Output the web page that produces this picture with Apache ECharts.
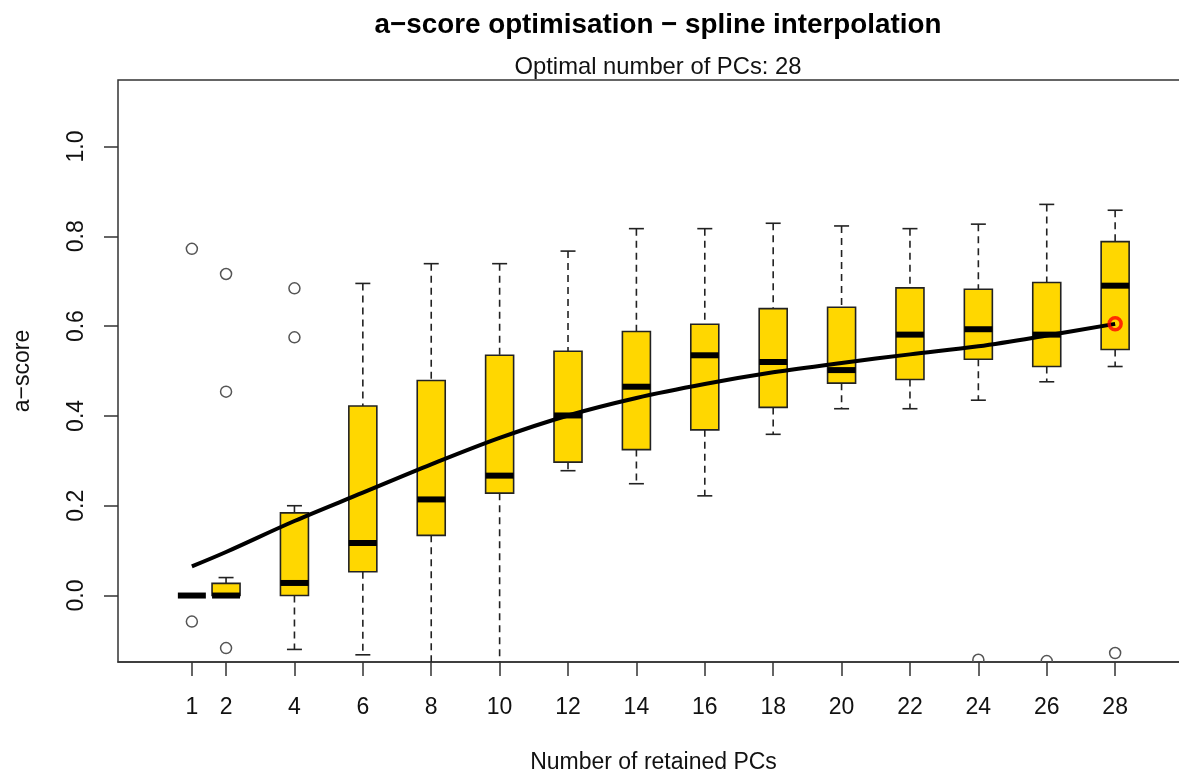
<!DOCTYPE html>
<html><head><meta charset="utf-8">
<script src="https://cdn.jsdelivr.net/npm/echarts@6/dist/echarts.min.js"></script>
<style>html,body{margin:0;padding:0;background:#fff}#c{width:1179px;height:776px}</style>
</head><body><div id="c"></div>
<script>
// ---- data ----
const positions   = [1, 2, 4, 6, 8, 10, 12, 14, 16, 18, 20, 22, 24, 26, 28];
const whiskerLow  = [0, 0, -0.120, -0.132, -0.160, -0.160, 0.278, 0.249, 0.222, 0.359, 0.416, 0.416, 0.435, 0.476, 0.510];
const q1          = [0, 0, 0, 0.053, 0.134, 0.228, 0.297, 0.325, 0.369, 0.419, 0.473, 0.481, 0.526, 0.510, 0.548];
const medians     = [0, 0, 0.028, 0.117, 0.214, 0.267, 0.401, 0.465, 0.535, 0.520, 0.502, 0.581, 0.593, 0.581, 0.690];
const q3          = [0, 0.027, 0.184, 0.422, 0.479, 0.535, 0.544, 0.588, 0.604, 0.639, 0.642, 0.685, 0.682, 0.697, 0.788];
const whiskerHigh = [0, 0.040, 0.200, 0.695, 0.739, 0.739, 0.767, 0.817, 0.817, 0.829, 0.823, 0.817, 0.827, 0.871, 0.858];
const outlierX    = [1, 1, 2, 2, 2, 4, 4, 24, 26, 28];
const outlierY    = [0.772, -0.058, 0.716, 0.454, -0.117, 0.684, 0.575, -0.143, -0.146, -0.128];
const splineY     = [0.065, 0.097, 0.166, 0.229, 0.292, 0.351, 0.401, 0.440, 0.471, 0.497, 0.518, 0.537, 0.555, 0.579, 0.605];
const optimalPC   = 28;
const optimalScore = 0.605;
const xTickLabels = [1, 2, 4, 6, 8, 10, 12, 14, 16, 18, 20, 22, 24, 26, 28];
const yTickLabels = [0, 0.2, 0.4, 0.6, 0.8, 1.0];
const titleText = 'a\u2212score optimisation \u2212 spline interpolation';
const subtitleText = 'Optimal number of PCs: ' + optimalPC;

// ---- styles ----
const FONT = '"Liberation Sans", Arial, Helvetica, sans-serif';
const BOX_W = 28, CAP_W = 15, OUT_R = 5.5;
const GOLD = '#FFD700', INK = '#222';
const TICK_FS = 23;

const boxData = positions.map((x, i) => [x, whiskerLow[i], q1[i], medians[i], q3[i], whiskerHigh[i]]);
const outlierData = outlierX.map((x, i) => [x, outlierY[i]]);
const splineData = positions.map((x, i) => [x, splineY[i]]);

const chart = echarts.init(document.getElementById('c'), null, {renderer: 'canvas'});
chart.setOption({
  animation: false,
  backgroundColor: '#fff',
  title: [
    {text: titleText, left: 653, top: 5, textAlign: 'center',
     textStyle: {fontFamily: FONT, fontWeight: 'bold', fontSize: 27.8, color: '#000', lineHeight: 30}},
    {text: subtitleText, left: 653, top: 49, textAlign: 'center',
     textStyle: {fontFamily: FONT, fontWeight: 'normal', fontSize: 23.8, color: '#111', lineHeight: 26}}
  ],
  grid: {left: 118, top: 80, width: 1071, height: 582, show: true, borderColor: '#333', borderWidth: 1.5,
    backgroundColor: 'transparent', containLabel: false, outerBoundsMode: 'none'},
  xAxis: {
    type: 'value', min: -1.16, max: 30.16,
    name: 'Number of retained PCs', nameLocation: 'middle', nameGap: 89,
    nameTextStyle: {fontFamily: FONT, fontSize: TICK_FS, color: '#111'},
    axisLine: {show: true, onZero: false, lineStyle: {color: '#333', width: 1.5}},
    axisTick: {show: true, length: 14, inside: false, customValues: xTickLabels, lineStyle: {color: '#333', width: 1.5}},
    axisLabel: {customValues: xTickLabels, margin: 34, fontFamily: FONT, fontSize: TICK_FS, color: '#111'},
    splitLine: {show: false}
  },
  yAxis: {
    type: 'value', min: -0.148, max: 1.148,
    name: 'a\u2212score', nameLocation: 'middle', nameGap: 84, nameRotate: 90,
    nameTextStyle: {fontFamily: FONT, fontSize: TICK_FS, color: '#111'},
    axisLine: {show: false, onZero: false},
    axisTick: {show: true, length: 14, inside: false, customValues: yTickLabels, lineStyle: {color: '#333', width: 1.5}},
    axisLabel: {customValues: yTickLabels, rotate: 90, margin: 30, fontFamily: FONT, fontSize: TICK_FS, color: '#111',
      formatter: v => v.toFixed(1)},
    splitLine: {show: false}
  },
  series: [
    {
      type: 'custom', name: 'boxes', clip: true, z: 2,
      data: boxData,
      encode: {x: 0, y: [1, 2, 3, 4, 5]},
      renderItem: function (params, api) {
        const x = api.value(0);
        const lo = api.coord([x, api.value(1)]);
        const b1 = api.coord([x, api.value(2)]);
        const md = api.coord([x, api.value(3)]);
        const b3 = api.coord([x, api.value(4)]);
        const hi = api.coord([x, api.value(5)]);
        const cx = lo[0];
        const dash = {stroke: INK, lineWidth: 1.6, lineDash: [7, 5]};
        const solid = {stroke: INK, lineWidth: 1.6};
        const children = [];
        if (hi[1] < b3[1]) children.push({type: 'line', shape: {x1: cx, y1: hi[1], x2: cx, y2: b3[1]}, style: dash});
        if (lo[1] > b1[1]) children.push({type: 'line', shape: {x1: cx, y1: b1[1], x2: cx, y2: lo[1]}, style: dash});
        children.push({type: 'line', shape: {x1: cx - CAP_W / 2, y1: hi[1], x2: cx + CAP_W / 2, y2: hi[1]}, style: solid});
        children.push({type: 'line', shape: {x1: cx - CAP_W / 2, y1: lo[1], x2: cx + CAP_W / 2, y2: lo[1]}, style: solid});
        if (b1[1] - b3[1] > 0.5) {
          children.push({type: 'rect', shape: {x: cx - BOX_W / 2, y: b3[1], width: BOX_W, height: b1[1] - b3[1]},
            style: {fill: GOLD, stroke: INK, lineWidth: 1.6}});
        }
        children.push({type: 'line', shape: {x1: cx - BOX_W / 2, y1: md[1], x2: cx + BOX_W / 2, y2: md[1]},
          style: {stroke: '#000', lineWidth: 6}});
        return {type: 'group', children: children};
      }
    },
    {
      type: 'custom', name: 'outliers', clip: true, z: 3,
      data: outlierData,
      encode: {x: 0, y: 1},
      renderItem: function (params, api) {
        const p = api.coord([api.value(0), api.value(1)]);
        return {type: 'circle', shape: {cx: p[0], cy: p[1], r: OUT_R},
          style: {fill: 'none', stroke: '#555', lineWidth: 1.5}};
      }
    },
    {
      type: 'line', name: 'spline', z: 4, smooth: 0.35, showSymbol: false, symbol: 'none',
      data: splineData, lineStyle: {color: '#000', width: 4}
    },
    {
      type: 'scatter', name: 'optimum', z: 5,
      data: [[optimalPC, optimalScore]], symbol: 'circle', symbolSize: 12,
      itemStyle: {color: 'rgba(0,0,0,0)', borderColor: '#ff0000', borderWidth: 3.5}
    }
  ]
});
</script></body></html>
